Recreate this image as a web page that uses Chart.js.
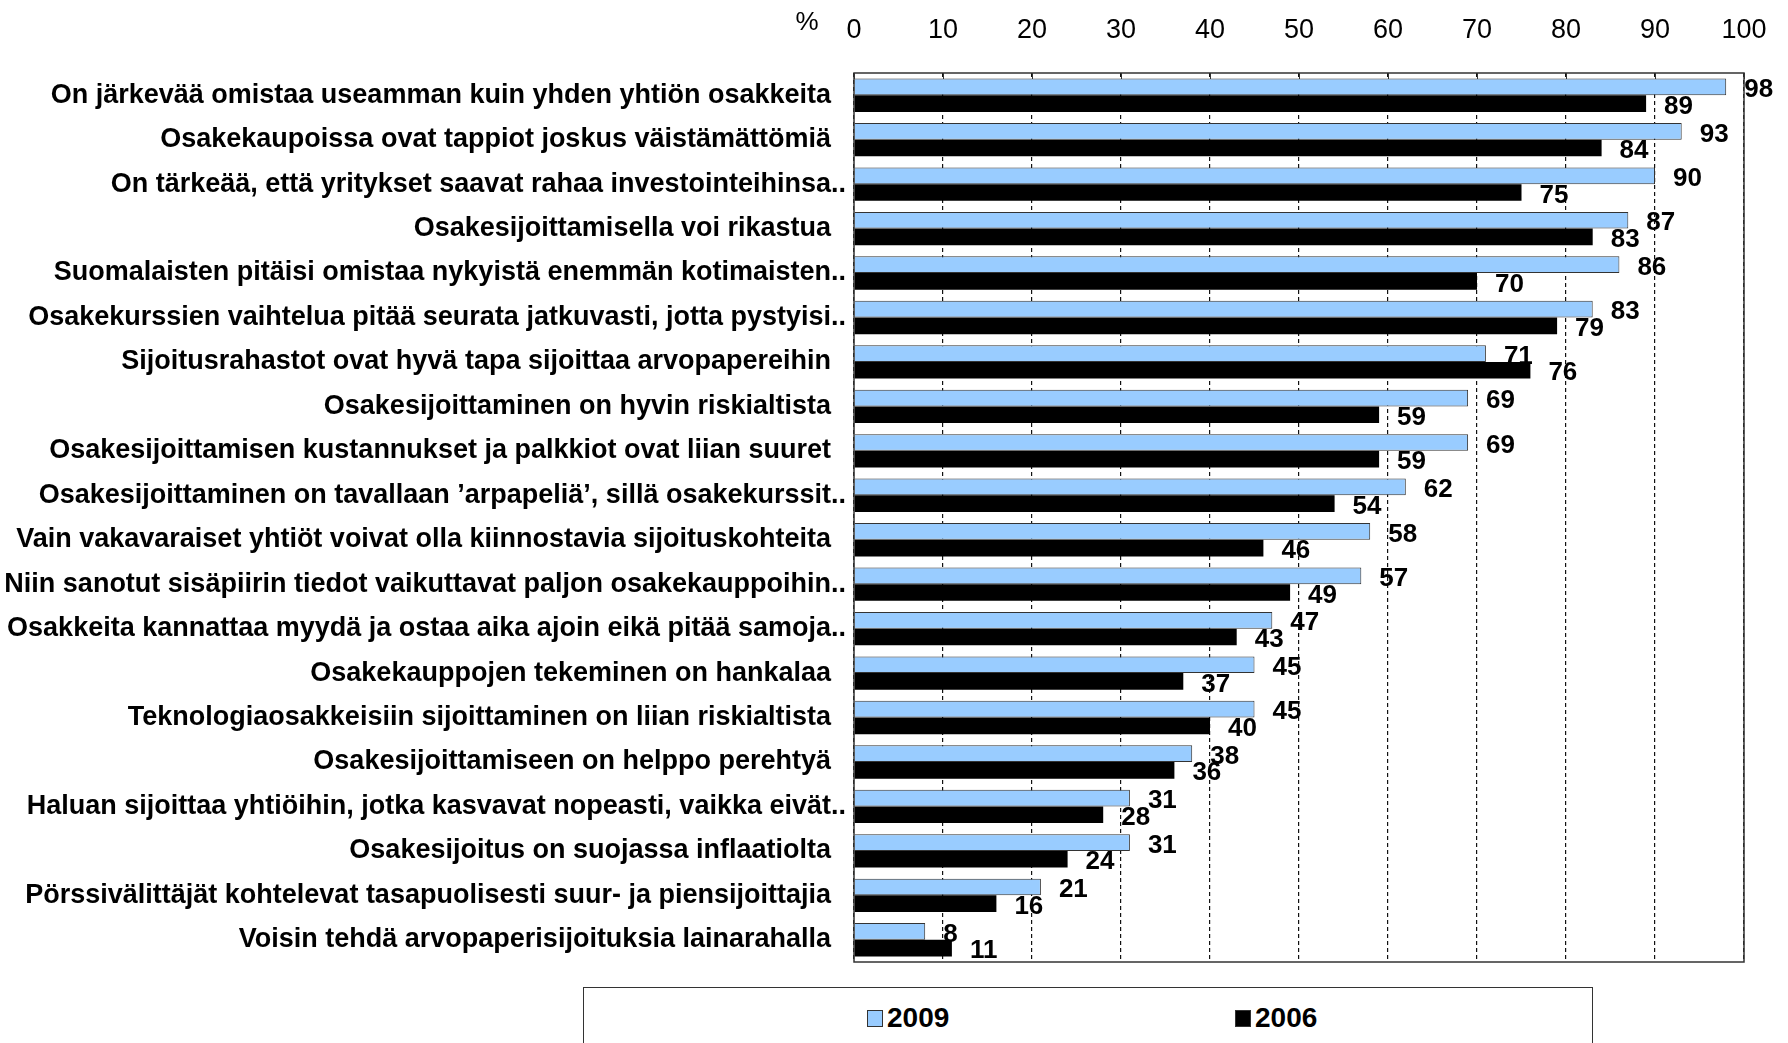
<!DOCTYPE html>
<html>
<head>
<meta charset="utf-8">
<script src="https://cdn.jsdelivr.net/npm/chart.js@4/dist/chart.umd.min.js"></script>
<style>
  body { margin: 0; background: #fff; overflow: hidden; }
  #wrap { position: relative; width: 1788px; height: 1043px; overflow: hidden; }
  #legend { position: absolute; left: 583px; top: 987px; width: 1010px; height: 80px;
            border: 1px solid #333; box-sizing: border-box; background: #fff;
            font-family: "Liberation Sans", Arial, sans-serif; font-weight: bold; font-size: 28px; }
  .sw { position: absolute; width: 16px; height: 17px; box-sizing: border-box; border: 1px solid #333; top: 22px; }
  .lt { position: absolute; top: 14px; line-height: 32px; }
</style>
</head>
<body>
<div id="wrap">
  <canvas id="chart" width="1788" height="1043"></canvas>
  <div id="legend">
    <div class="sw" style="left:283px;background:#99CCFF"></div><div class="lt" style="left:303px">2009</div>
    <div class="sw" style="left:651px;background:#000"></div><div class="lt" style="left:671px">2006</div>
  </div>
</div>
<script>
var labels = [
    "On järkevää omistaa useamman kuin yhden yhtiön osakkeita  ",
    "Osakekaupoissa ovat tappiot joskus väistämättömiä  ",
    "On tärkeää, että yritykset saavat rahaa investointeihinsa..",
    "Osakesijoittamisella voi rikastua  ",
    "Suomalaisten pitäisi omistaa nykyistä enemmän kotimaisten..",
    "Osakekurssien vaihtelua pitää seurata jatkuvasti, jotta pystyisi..",
    "Sijoitusrahastot ovat hyvä tapa sijoittaa arvopapereihin  ",
    "Osakesijoittaminen on hyvin riskialtista  ",
    "Osakesijoittamisen kustannukset ja palkkiot ovat liian suuret  ",
    "Osakesijoittaminen on tavallaan ’arpapeliä’, sillä osakekurssit..",
    "Vain vakavaraiset yhtiöt voivat olla kiinnostavia sijoituskohteita  ",
    "Niin sanotut sisäpiirin tiedot vaikuttavat paljon osakekauppoihin..",
    "Osakkeita kannattaa myydä ja ostaa aika ajoin eikä pitää samoja..",
    "Osakekauppojen tekeminen on hankalaa  ",
    "Teknologiaosakkeisiin sijoittaminen on liian riskialtista  ",
    "Osakesijoittamiseen on helppo perehtyä  ",
    "Haluan sijoittaa yhtiöihin, jotka kasvavat nopeasti, vaikka eivät..",
    "Osakesijoitus on suojassa inflaatiolta  ",
    "Pörssivälittäjät kohtelevat tasapuolisesti suur- ja piensijoittajia  ",
    "Voisin tehdä arvopaperisijoituksia lainarahalla  "
];
var values2009 = [98, 93, 90, 87, 86, 83, 71, 69, 69, 62, 58, 57, 47, 45, 45, 38, 31, 31, 21, 8];
var values2006 = [89, 84, 75, 83, 70, 79, 76, 59, 59, 54, 46, 49, 43, 37, 40, 36, 28, 24, 16, 11];
var axisMin = 0, axisMax = 100, axisStep = 10;

var FONT = '"Liberation Sans", Arial, sans-serif';

// value labels right of each bar, frame round the plot, % sign
var extras = {
    id: 'extras',
    afterDatasetsDraw: function(chart) {
        var ctx = chart.ctx;
        ctx.save();
        ctx.font = 'bold 26px ' + FONT;
        ctx.fillStyle = '#000';
        ctx.textAlign = 'left';
        ctx.textBaseline = 'middle';
        chart.data.datasets.forEach(function(ds, i) {
            chart.getDatasetMeta(i).data.forEach(function(bar, j) {
                ctx.fillText(ds.data[j], bar.x + 18, bar.y + 3);
            });
        });
        var a = chart.chartArea;
        ctx.strokeStyle = '#333';
        ctx.lineWidth = 1.5;
        ctx.strokeRect(a.left, a.top, a.right - a.left, a.bottom - a.top);
        // small tick marks inside the top edge
        var xs = chart.scales.x;
        ctx.lineWidth = 1;
        xs.ticks.forEach(function(t) {
            var px = Math.round(xs.getPixelForValue(t.value)) + 0.5;
            ctx.beginPath();
            ctx.moveTo(px, a.top);
            ctx.lineTo(px, a.top + 6);
            ctx.stroke();
        });
        ctx.font = '26px ' + FONT;
        ctx.textAlign = 'center';
        ctx.fillText('%', 807, 23);
        ctx.restore();
    }
};

var ctx = document.getElementById("chart").getContext('2d');
var myChart = new Chart(ctx, {
    type: 'bar',
    plugins: [extras],
    data: {
        labels: labels,
        datasets: [{
            label: '2009',
            data: values2009,
            backgroundColor: '#99CCFF',
            borderColor: '#333',
            borderWidth: 1,
            categoryPercentage: 0.75,
            barPercentage: 1.0
        }, {
            label: '2006',
            data: values2006,
            backgroundColor: '#000',
            borderWidth: 0,
            categoryPercentage: 0.75,
            barPercentage: 1.0
        }]
    },
    options: {
        indexAxis: 'y',
        responsive: false,
        animation: false,
        events: [],
        layout: { padding: { top: 0, right: 44, bottom: 81, left: 0 } },
        plugins: {
            legend: { display: false },
            tooltip: { enabled: false }
        },
        scales: {
            x: {
                position: 'top',
                min: axisMin,
                max: axisMax,
                afterFit: function(scale) {
                    scale.height = 73;
                    scale.paddingLeft = 0;
                    scale.paddingRight = 0;
                },
                ticks: {
                    stepSize: axisStep,
                    padding: 26,
                    color: '#000',
                    font: { family: FONT, size: 27 }
                },
                grid: {
                    color: '#111',
                    lineWidth: 1.2,
                    drawTicks: false
                },
                border: { display: false, dash: [4, 3] }
            },
            y: {
                afterFit: function(scale) { scale.width = 854; },
                ticks: {
                    autoSkip: false,
                    padding: 8,
                    color: '#000',
                    font: { family: FONT, size: 27, weight: 'bold' }
                },
                grid: { display: false, drawTicks: false },
                border: { display: false }
            }
        }
    }
});
</script>
</body>
</html>
